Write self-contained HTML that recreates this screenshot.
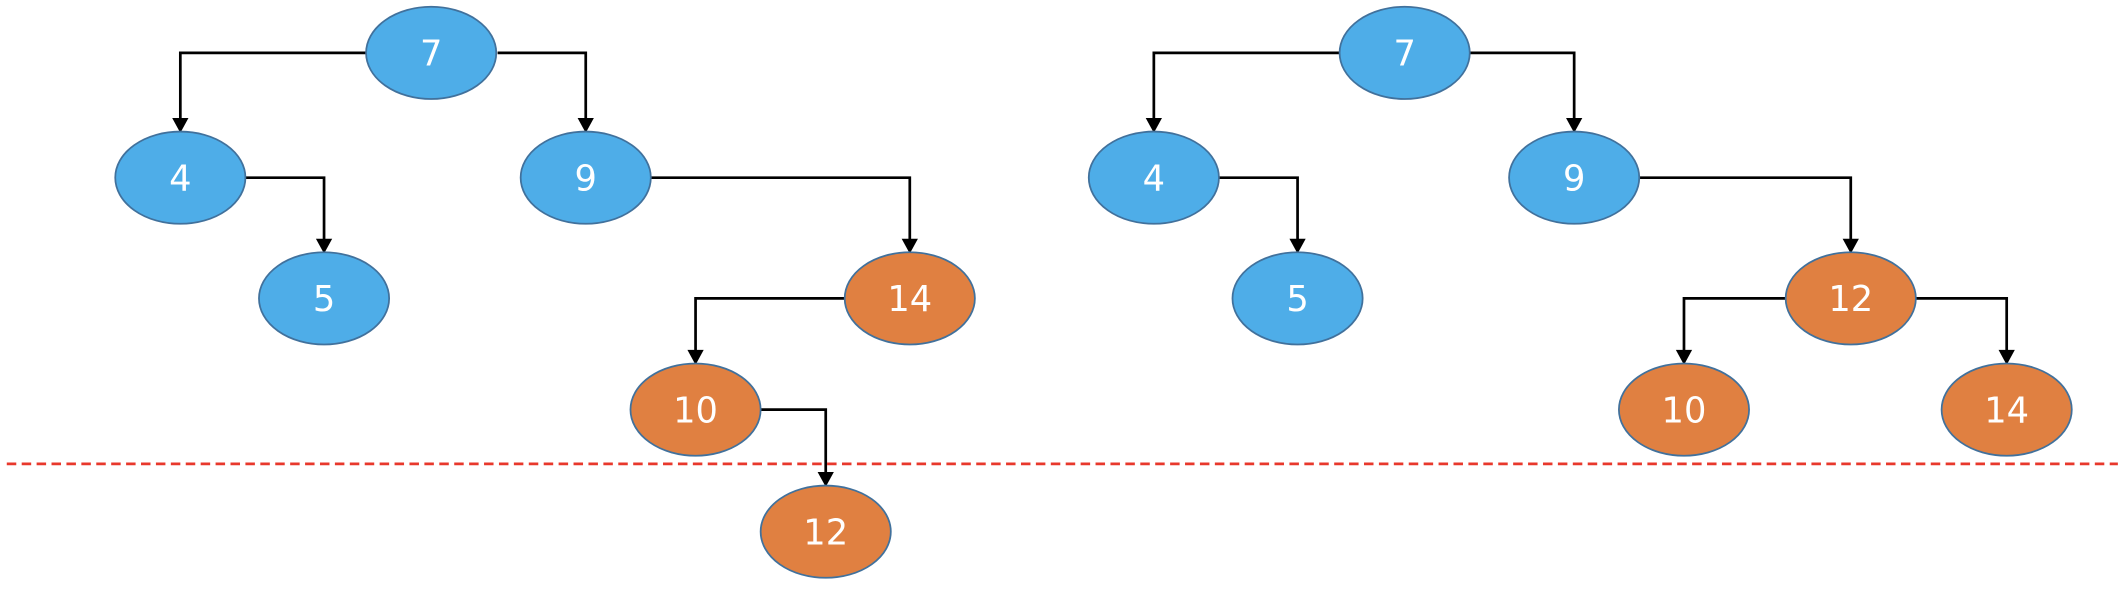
<!DOCTYPE html>
<html><head><meta charset="utf-8"><style>html,body{margin:0;padding:0;background:#fff}svg{display:block}</style></head>
<body>
<svg width="2126" height="590" viewBox="0 0 1568 435" preserveAspectRatio="none" xmlns="http://www.w3.org/2000/svg">
<defs><marker id="a" markerWidth="10" markerHeight="10" refX="5" refY="9" orient="auto" markerUnits="userSpaceOnUse" viewBox="0 0 10 10"><path d="M0,0 L10,0 L5,10 z" fill="#000" transform="rotate(0)"/></marker></defs>
<g fill="none" stroke="#000" stroke-width="2">
<path d="M270,39 H133 V89"/><path d="M367,39 H432 V89"/><path d="M181,131 H239 V178"/><path d="M480,131 H671 V178"/><path d="M623,220 H513 V260"/><path d="M561,302 H609 V350"/>
<path d="M988,39 H851 V89"/><path d="M1084,39 H1161 V89"/><path d="M899,131 H957 V178"/><path d="M1209,131 H1365 V178"/><path d="M1317,220 H1242 V260"/><path d="M1413,220 H1480 V260"/>
</g>
<g fill="#000">
<path d="M127,87 h12 l-6,11z"/><path d="M426,87 h12 l-6,11z"/><path d="M233,176 h12 l-6,11z"/><path d="M665,176 h12 l-6,11z"/><path d="M507,258 h12 l-6,11z"/><path d="M603,348 h12 l-6,11z"/>
<path d="M845,87 h12 l-6,11z"/><path d="M1155,87 h12 l-6,11z"/><path d="M951,176 h12 l-6,11z"/><path d="M1359,176 h12 l-6,11z"/><path d="M1236,258 h12 l-6,11z"/><path d="M1474,258 h12 l-6,11z"/>
</g>
<line x1="5" y1="342" x2="1562" y2="342" stroke="#e8382c" stroke-width="2" stroke-dasharray="7,4"/>
<g stroke="#41719c" stroke-width="1.3">
<g fill="#4eade8">
<ellipse cx="318" cy="39" rx="48" ry="34"/><ellipse cx="133" cy="131" rx="48" ry="34"/><ellipse cx="432" cy="131" rx="48" ry="34"/><ellipse cx="239" cy="220" rx="48" ry="34"/>
<ellipse cx="1036" cy="39" rx="48" ry="34"/><ellipse cx="851" cy="131" rx="48" ry="34"/><ellipse cx="1161" cy="131" rx="48" ry="34"/><ellipse cx="957" cy="220" rx="48" ry="34"/>
</g>
<g fill="#e08041">
<ellipse cx="671" cy="220" rx="48" ry="34"/><ellipse cx="513" cy="302" rx="48" ry="34"/><ellipse cx="609" cy="392" rx="48" ry="34"/>
<ellipse cx="1365" cy="220" rx="48" ry="34"/><ellipse cx="1242" cy="302" rx="48" ry="34"/><ellipse cx="1480" cy="302" rx="48" ry="34"/>
</g>
</g>
<g fill="#fff" font-family="'DejaVu Sans','Liberation Sans',sans-serif" font-size="26" text-anchor="middle" dominant-baseline="central">
<text x="318" y="40">7</text><text x="133" y="132">4</text><text x="432" y="132">9</text><text x="239" y="221">5</text>
<text x="671" y="221">14</text><text x="513" y="303">10</text><text x="609" y="393">12</text>
<text x="1036" y="40">7</text><text x="851" y="132">4</text><text x="1161" y="132">9</text><text x="957" y="221">5</text>
<text x="1365" y="221">12</text><text x="1242" y="303">10</text><text x="1480" y="303">14</text>
</g>
</svg>
</body></html>
